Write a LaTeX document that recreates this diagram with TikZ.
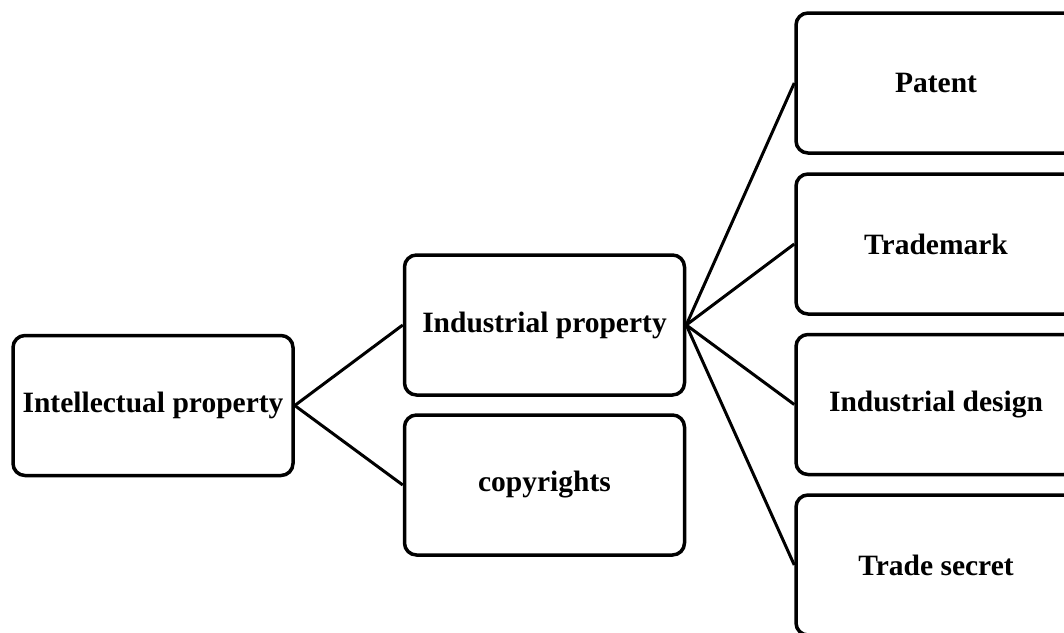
\documentclass[tikz,border=0pt]{standalone}
\usepackage{fontspec}
\setmainfont{Liberation Serif}
\usepackage{tikz}

\tikzset{
    ipbox/.style={draw, line width=3.5pt, rounded corners=12pt, minimum width=280pt, minimum height=140pt, font=\fontsize{29.5}{34}\selectfont\bfseries, align=center},
    ipline/.style={line width=3pt}
}

\begin{document}
\begin{tikzpicture}[x=1pt, y=-1pt]
            \useasboundingbox (0,0) rectangle (1064,632);
            \node[ipbox] (intel) at (153,405.5) {Intellectual property};
            \node[ipbox] (indus) at (544.5,325) {Industrial property};
            \node[ipbox] (copy) at (544.5,485) {copyrights};
            \foreach \n/\y/\t in {pat/83/Patent,trade/244/Trademark,design/404.5/Industrial design,secret/565/Trade secret}{
                \node[ipbox] (\n) at (936,\y) {\t};
                \draw[ipline] (indus.east) -- (\n.west);
            }
            \draw[ipline] (intel.east) -- (indus.west);
            \draw[ipline] (intel.east) -- (copy.west);
        \end{tikzpicture}
\end{document}
